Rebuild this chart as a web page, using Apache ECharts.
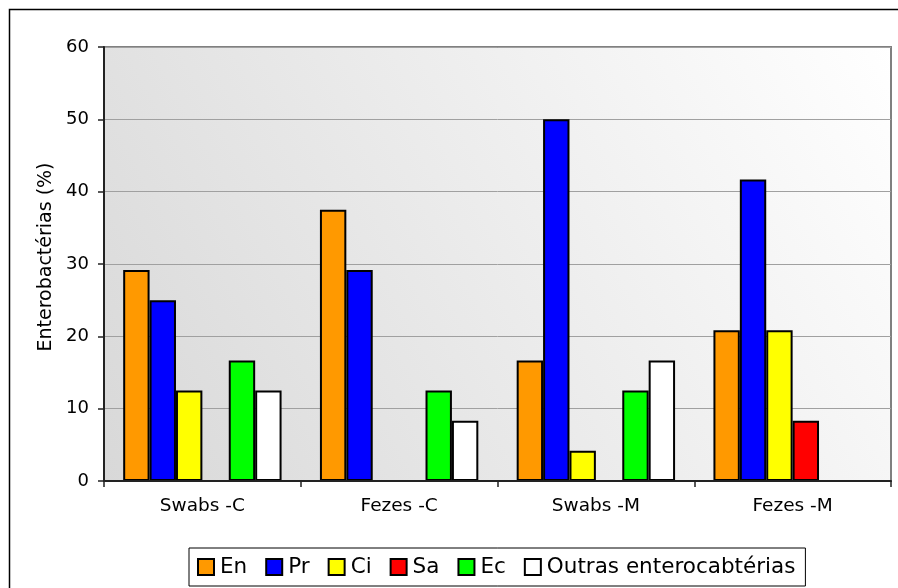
<!DOCTYPE html>
<html>
<head>
<meta charset="utf-8">
<style>
  html, body { margin: 0; padding: 0; background: #fff; }
  #chart { width: 898px; height: 588px; }
</style>
<script src="https://cdn.jsdelivr.net/npm/echarts@6/dist/echarts.min.js"></script>
</head>
<body>
<div id="chart"></div>
<script>
// Sample groups along the x axis
const categories = ['Swabs -C', 'Fezes -C', 'Swabs -M', 'Fezes -M'];

// Percentage of each enterobacteria group per sample type
const seriesNames = ['En', 'Pr', 'Ci', 'Sa', 'Ec', 'Outras enterocabtérias'];
const valuesEn = [29.17, 37.5, 16.67, 20.83];
const valuesPr = [25, 29.17, 50, 41.67];
const valuesCi = [12.5, 0, 4.17, 20.83];
const valuesSa = [0, 0, 0, 8.33];
const valuesEc = [16.67, 12.5, 12.5, 0];
const valuesOutras = [12.5, 8.33, 16.67, 0];

const seriesValues = [valuesEn, valuesPr, valuesCi, valuesSa, valuesEc, valuesOutras];
const seriesColors = ['#ff9900', '#0000ff', '#ffff00', '#ff0000', '#00ff00', '#ffffff'];

const FONT = 'DejaVu Sans';

const chart = echarts.init(document.getElementById('chart'), null, { renderer: 'canvas' });

chart.setOption({
  animation: false,
  backgroundColor: '#ffffff',
  graphic: [{
    type: 'rect',
    shape: { x: 9.5, y: 9.5, width: 1000, height: 1000 },
    style: { fill: 'none', stroke: '#000', lineWidth: 1.5 },
    silent: true,
    z: -10
  }],
  grid: {
    left: 104, top: 47, right: 7, bottom: 107,
    show: true,
    borderColor: '#808080',
    borderWidth: 2,
    backgroundColor: {
      type: 'linear', x: 0, y: 1, x2: 1, y2: 0,
      colorStops: [
        { offset: 0, color: '#d8d8d8' },
        { offset: 1, color: '#ffffff' }
      ]
    }
  },
  legend: {
    data: seriesNames,
    left: 189,
    top: 548,
    orient: 'horizontal',
    itemWidth: 16,
    itemHeight: 16,
    itemGap: 18,
    padding: [8, 10, 8, 8],
    borderColor: '#000',
    borderWidth: 1,
    backgroundColor: '#fff',
    icon: 'rect',
    textStyle: { fontFamily: FONT, fontSize: 21.5, color: '#000', padding: [0, 0, 0, 1] }
  },
  xAxis: {
    type: 'category',
    data: categories,
    boundaryGap: true,
    z: 5,
    axisLine: { lineStyle: { color: '#222', width: 2 } },
    axisTick: { show: true, length: 6, alignWithLabel: false, lineStyle: { color: '#222', width: 1.5 } },
    axisLabel: { fontFamily: FONT, fontSize: 18.5, color: '#000', margin: 16 }
  },
  yAxis: {
    type: 'value',
    min: 0, max: 60, interval: 10,
    name: 'Enterobactérias (%)',
    nameLocation: 'middle',
    nameGap: 48,
    nameTextStyle: { fontFamily: FONT, fontSize: 19, color: '#000', padding: [0, 0, 0, 14] },
    axisLine: { show: true, lineStyle: { color: '#222', width: 2 } },
    axisTick: { show: true, length: 6, lineStyle: { color: '#222', width: 1.5 } },
    axisLabel: { fontFamily: FONT, fontSize: 18, color: '#000', margin: 15 },
    splitLine: { show: true, lineStyle: { color: '#a0a0a0', width: 1 } }
  },
  series: seriesNames.map((name, i) => ({
    name: name,
    type: 'bar',
    data: seriesValues[i],
    barGap: '0%',
    barCategoryGap: '19.5%',
    itemStyle: { color: seriesColors[i], borderColor: '#000', borderWidth: 2 }
  }))
});
</script>
</body>
</html>
